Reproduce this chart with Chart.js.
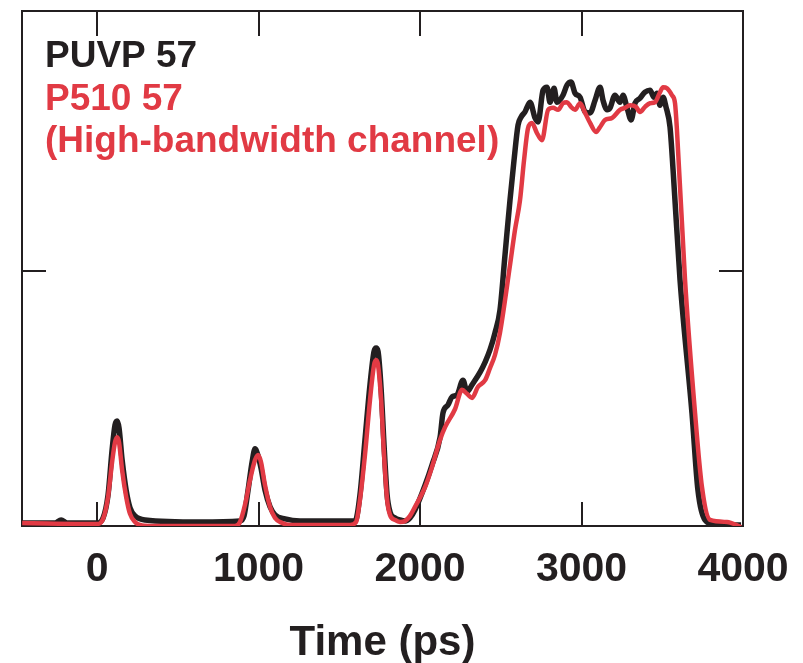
<!DOCTYPE html>
<html>
<head>
<meta charset="utf-8">
<script src="https://cdn.jsdelivr.net/npm/chart.js@4/dist/chart.umd.min.js"></script>
<style>
    html, body { margin: 0; padding: 0; background: #fff; }
    #wrap { width: 803px; height: 663px; }
</style>
</head>
<body>
<div id="wrap"><canvas id="myChart" width="803" height="663"></canvas></div>
<script>
// series names (drawn as the text legend top left)
var seriesNames = ["PUVP 57", "P510 57", "(High-bandwidth channel)"];

// PUVP 57 (black) - time in ps, signal in arb. units
var puvpTime = [-464, -260, -223, -186, 0, 37, 68, 93, 111, 124, 136, 155, 180, 204, 235, 297, 638,
    885, 910, 935, 960, 978, 997, 1015, 1040, 1071, 1102, 1164, 1257, 1598,
    1628, 1659, 1690, 1715, 1728, 1740, 1759, 1777, 1796, 1814, 1845, 1876, 1907, 1938, 1969,
    2031, 2074, 2124, 2142, 2173, 2198, 2229, 2266, 2291, 2322, 2372, 2403, 2433, 2464, 2495,
    2526, 2557, 2582, 2607, 2626, 2650, 2681, 2712, 2731, 2762, 2786, 2805, 2830, 2848, 2885,
    2910, 2935, 2960, 2991, 3022, 3053, 3084, 3115, 3133, 3158, 3177, 3207, 3238, 3257, 3282,
    3307, 3331, 3362, 3393, 3424, 3449, 3467, 3486, 3505, 3523, 3548, 3567, 3610, 3684, 3721,
    3765, 3839, 3988];
var puvpSignal = [0, 0, 0.6, 0, 0, 1.0, 5.6, 14.5, 19.4, 20.2, 18.8, 12.5, 6.5, 3.0, 1.4, 0.6, 0.2,
    0.4, 1.4, 6.5, 12.1, 14.7, 13.3, 10.9, 6.5, 3.2, 1.6, 0.8, 0.4, 0.4,
    5.6, 16.5, 27.4, 34.0, 34.7, 34.0, 26.6, 15.5, 5.6, 2.2, 1.0, 0.6, 0.4, 1.0, 2.6,
    7.5, 11.5, 17.0, 21.8, 23.4, 25.0, 25.4, 28.3, 26.0, 27.4, 29.9, 31.9, 34.3, 37.7, 42.2,
    53.1, 64.0, 71.9, 78.9, 80.5, 81.5, 83.4, 80.3, 79.5, 85.8, 86.4, 83.4, 86.2, 83.4, 84.8,
    86.8, 87.4, 85.2, 84.4, 81.5, 81.3, 83.8, 86.4, 83.8, 81.9, 82.3, 84.8, 83.4, 84.8, 82.3,
    79.9, 83.2, 84.2, 85.4, 85.8, 84.4, 85.2, 82.8, 84.4, 82.5, 78.5, 70.0, 48.2, 21.8, 6.5,
    0.6, -0.4, -0.4];

// P510 57 (red)
var p510Time = [-464, 0, 37, 68, 93, 111, 124, 136, 155, 180, 204, 235, 266, 328, 854,
    885, 916, 947, 978, 997, 1015, 1040, 1071, 1102, 1146, 1195, 1567,
    1604, 1628, 1659, 1690, 1715, 1728, 1740, 1759, 1777, 1796, 1814, 1845, 1876, 1907, 1938, 1969,
    2031, 2074, 2124, 2155, 2217, 2260, 2291, 2322, 2359, 2403, 2433, 2464, 2495,
    2557, 2588, 2619, 2644, 2669, 2693, 2724, 2755, 2793, 2824, 2855, 2885, 2910, 2935, 2960,
    2991, 3022, 3053, 3090, 3115, 3146, 3189, 3238, 3269, 3300, 3337, 3362, 3393, 3424, 3455,
    3486, 3505, 3529, 3560, 3579, 3591, 3641, 3703, 3746, 3796, 3901, 3988];
var p510Signal = [0, -0.2, 0.8, 5.2, 12.1, 16.0, 17.0, 16.0, 10.5, 5.2, 1.8, 0.2, -0.4, -0.6, -0.6,
    0.2, 3.6, 8.5, 12.5, 13.5, 12.1, 7.5, 3.2, 1.0, 0, -0.4, -0.4,
    0.2, 4.6, 13.5, 24.4, 31.3, 32.3, 31.3, 24.4, 13.5, 4.6, 1.6, 0.6, 0.2, 0.4, 1.4, 3.2,
    7.1, 11.1, 16.5, 19.0, 22.6, 26.4, 25.6, 24.8, 27.0, 28.3, 30.7, 33.3, 37.7,
    51.1, 58.1, 64.0, 71.9, 78.3, 79.3, 77.3, 75.9, 81.9, 82.3, 81.9, 83.2, 83.4, 82.5, 81.9,
    83.2, 81.3, 79.3, 77.5, 78.5, 79.9, 80.3, 81.9, 82.3, 82.8, 82.5, 81.5, 82.5, 83.2, 83.4,
    85.4, 86.4, 86.2, 84.8, 83.2, 77.9, 48.2, 21.8, 7.1, 0.6, 0.2, -0.8];

// axis ticks
var xTicks = [0, 1000, 2000, 3000, 4000];
var yTicks = [50];
var xTitle = "Time (ps)";

var black = "#231f20";
var red = "#e13a44";

function toPoints(xs, ys) {
    var pts = [];
    for (var i = 0; i < xs.length; i++) {
        pts.push({ x: xs[i], y: ys[i] });
    }
    return pts;
}

// frame + inward tick marks + text legend
var framePlugin = {
    id: "frame",
    beforeDatasetsDraw: function (chart) {
        var ctx = chart.ctx;
        var a = chart.chartArea;
        var xs = chart.scales.x;
        var ys = chart.scales.y;
        ctx.save();
        ctx.strokeStyle = black;
        ctx.lineWidth = 2;
        ctx.strokeRect(a.left, a.top, a.right - a.left, a.bottom - a.top);
        ctx.beginPath();
        for (var t of xTicks) {
            var px = Math.round(xs.getPixelForValue(t));
            ctx.moveTo(px, a.top);
            ctx.lineTo(px, a.top + 25);
            ctx.moveTo(px, a.bottom);
            ctx.lineTo(px, a.bottom - 24);
        }
        for (var t of yTicks) {
            var py = Math.round(ys.getPixelForValue(t));
            ctx.moveTo(a.left, py);
            ctx.lineTo(a.left + 24, py);
            ctx.moveTo(a.right, py);
            ctx.lineTo(a.right - 24, py);
        }
        ctx.stroke();
        ctx.restore();
    },
    afterDraw: function (chart) {
        var ctx = chart.ctx;
        ctx.save();
        ctx.font = "bold 37px 'Liberation Sans', Arial, sans-serif";
        ctx.textBaseline = "alphabetic";
        ctx.fillStyle = black;
        ctx.fillText(seriesNames[0], 45, 67);
        ctx.fillStyle = red;
        ctx.fillText(seriesNames[1], 45, 110);
        ctx.fillText(seriesNames[2], 45, 152);
        ctx.restore();
    }
};

new Chart(document.getElementById("myChart"), {
    type: "line",
    data: {
        datasets: [
            {
                label: seriesNames[1],
                data: toPoints(p510Time, p510Signal),
                borderColor: red,
                borderWidth: 4.5,
                pointRadius: 0,
                fill: false,
                cubicInterpolationMode: "monotone"
            },
            {
                label: seriesNames[0],
                data: toPoints(puvpTime, puvpSignal),
                borderColor: black,
                borderWidth: 5.5,
                pointRadius: 0,
                fill: false,
                cubicInterpolationMode: "monotone"
            }
        ]
    },
    options: {
        responsive: false,
        animation: false,
        layout: { padding: { left: 22, right: 60, top: 11, bottom: 0 } },
        plugins: { legend: { display: false }, tooltip: { enabled: false } },
        scales: {
            x: {
                type: "linear",
                min: -465,
                max: 4000,
                grid: { display: false, drawTicks: false },
                border: { display: false },
                afterBuildTicks: function (s) {
                    s.ticks = xTicks.map(function (v) { return { value: v }; });
                },
                afterFit: function (s) {
                    s.height = 137;
                    s.paddingLeft = 0;
                    s.paddingRight = 0;
                },
                ticks: {
                    padding: 19,
                    maxRotation: 0,
                    autoSkip: false,
                    color: black,
                    callback: function (v) { return String(v); },
                    font: { family: "'Liberation Sans', Arial, sans-serif", size: 41, weight: "bold" }
                },
                title: {
                    display: true,
                    text: xTitle,
                    color: black,
                    padding: { top: 0, bottom: -1 },
                    font: { family: "'Liberation Sans', Arial, sans-serif", size: 42, weight: "bold", lineHeight: 1.0 }
                }
            },
            y: {
                display: false,
                min: -0.6,
                max: 101.5
            }
        }
    },
    plugins: [framePlugin]
});
</script>
</body>
</html>
